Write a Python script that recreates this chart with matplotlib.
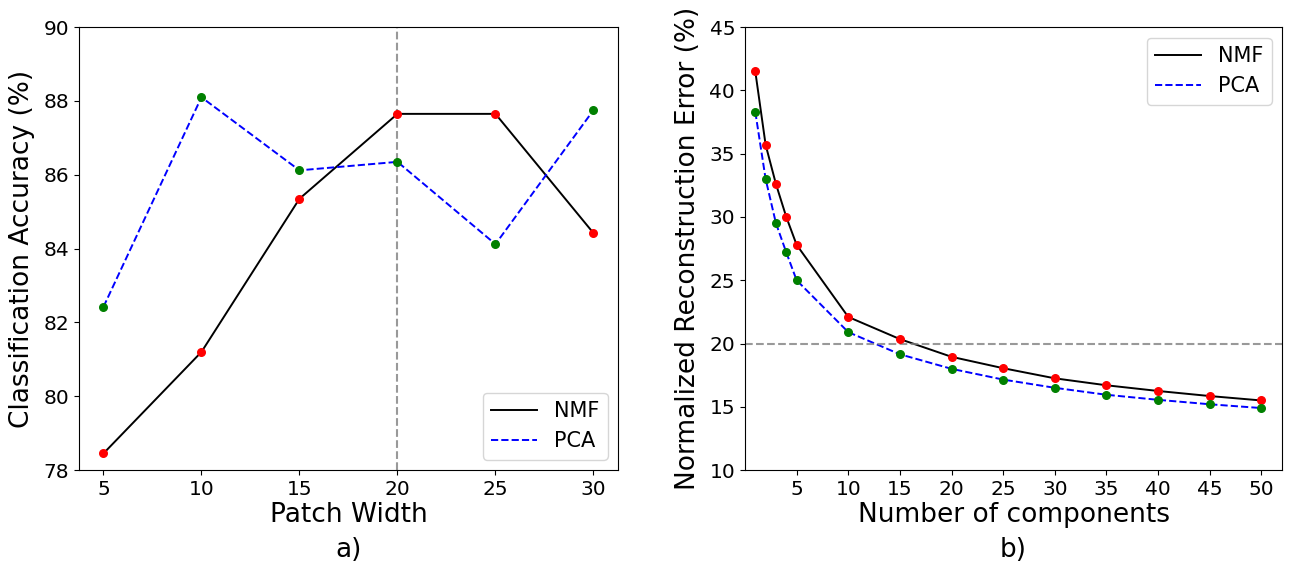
import matplotlib.pyplot as plt

# a) classification accuracy vs patch width
patch_width = [5, 10, 15, 20, 25, 30]
acc_nmf = [78.45, 81.2, 85.35, 87.65, 87.65, 84.42]
acc_pca = [82.42, 88.1, 86.12, 86.35, 84.12, 87.75]

# b) reconstruction error vs number of components
n_comp = [1, 2, 3, 4, 5, 10, 15, 20, 25, 30, 35, 40, 45, 50]
err_nmf = [41.5, 35.7, 32.6, 30.0, 27.8, 22.1, 20.35, 18.95, 18.05, 17.25, 16.7, 16.25, 15.85, 15.5]
err_pca = [38.3, 33.0, 29.5, 27.2, 25.0, 20.9, 19.15, 18.0, 17.15, 16.5, 15.95, 15.55, 15.2, 14.9]

fig = plt.figure(figsize=(12.92, 5.65), dpi=100)
ax1 = fig.add_axes([0.0611, 0.168, 0.4172, 0.784])
ax2 = fig.add_axes([0.5766, 0.168, 0.4157, 0.784])

ax1.plot(patch_width, acc_nmf, 'k-', lw=1.4, label='NMF')
ax1.plot(patch_width, acc_pca, 'b--', lw=1.4, label='PCA')
ax1.scatter(patch_width, acc_nmf, color='red', s=30, zorder=3)
ax1.scatter(patch_width, acc_pca, color='green', s=30, zorder=3)
ax1.axvline(20, color='grey', ls='--', lw=1.5, alpha=0.8)
ax1.set_ylim(78, 90)
ax1.set_xticks(patch_width)
ax1.set_xlabel('Patch Width', fontsize=19, labelpad=2)
ax1.set_ylabel('Classification Accuracy (%)', fontsize=19, labelpad=6)
ax1.tick_params(labelsize=14.5)
ax1.legend(loc='lower right', fontsize=15, handlelength=2.2)
ax1.text(0.5, -0.151, 'a)', transform=ax1.transAxes, ha='center', va='top', fontsize=19)

ax2.plot(n_comp, err_nmf, 'k-', lw=1.4, label='NMF')
ax2.plot(n_comp, err_pca, 'b--', lw=1.4, label='PCA')
ax2.scatter(n_comp, err_nmf, color='red', s=30, zorder=3)
ax2.scatter(n_comp, err_pca, color='green', s=30, zorder=3)
ax2.axhline(20, color='grey', ls='--', lw=1.5, alpha=0.8)
ax2.set_xlim(0, 52)
ax2.set_ylim(10, 45)
ax2.set_xticks([5, 10, 15, 20, 25, 30, 35, 40, 45, 50])
ax2.set_xlabel('Number of components', fontsize=19, labelpad=2)
ax2.set_ylabel('Normalized Reconstruction Error (%)', fontsize=19, labelpad=6)
ax2.tick_params(labelsize=14.5)
ax2.legend(loc='upper right', fontsize=15, handlelength=2.2)
ax2.text(0.5, -0.151, 'b)', transform=ax2.transAxes, ha='center', va='top', fontsize=19)

fig.savefig('out.png', dpi=100)
